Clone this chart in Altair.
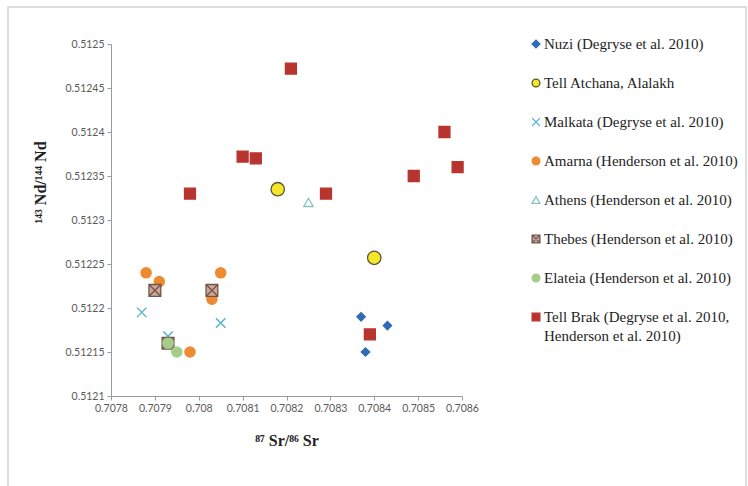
import altair as alt
import pandas as pd

# Series in drawing / legend order
series = [
    "Nuzi (Degryse et al. 2010)",
    "Tell Atchana, Alalakh",
    "Malkata (Degryse et al. 2010)",
    "Amarna (Henderson et al. 2010)",
    "Athens (Henderson et al. 2010)",
    "Thebes (Henderson et al. 2010)",
    "Elateia (Henderson et al. 2010)",
    "Tell Brak (Degryse et al. 2010, Henderson et al. 2010)",
]

# 87Sr/86Sr and 143Nd/144Nd per site
nuzi_sr = [0.70837, 0.70843, 0.70838]
nuzi_nd = [0.51219, 0.51218, 0.51215]

atchana_sr = [0.70818, 0.70840]
atchana_nd = [0.512335, 0.512257]

malkata_sr = [0.70787, 0.70793, 0.70805]
malkata_nd = [0.512195, 0.512168, 0.512183]

amarna_sr = [0.70788, 0.70791, 0.70805, 0.70803, 0.70798]
amarna_nd = [0.51224, 0.51223, 0.51224, 0.51221, 0.51215]

athens_sr = [0.70825]
athens_nd = [0.51232]

thebes_sr = [0.70790, 0.70803, 0.70793]
thebes_nd = [0.51222, 0.51222, 0.51216]

elateia_sr = [0.70793, 0.70795]
elateia_nd = [0.51216, 0.51215]

brak_sr = [0.70821, 0.70810, 0.70813, 0.70798, 0.70829, 0.70856, 0.70849, 0.70859, 0.70839]
brak_nd = [0.512472, 0.512372, 0.51237, 0.51233, 0.51233, 0.5124, 0.51235, 0.51236, 0.51217]

x_ticks = [0.7078, 0.7079, 0.708, 0.7081, 0.7082, 0.7083, 0.7084, 0.7085, 0.7086]
y_ticks = [0.5121, 0.51215, 0.5122, 0.51225, 0.5123, 0.51235, 0.5124, 0.51245, 0.5125]

groups = [
    (nuzi_sr, nuzi_nd), (atchana_sr, atchana_nd), (malkata_sr, malkata_nd),
    (amarna_sr, amarna_nd), (athens_sr, athens_nd), (thebes_sr, thebes_nd),
    (elateia_sr, elateia_nd), (brak_sr, brak_nd),
]
rows = []
for name, (xs, ys) in zip(series, groups):
    for sr, nd in zip(xs, ys):
        rows.append({"series": name, "sr": sr, "nd": nd})
df = pd.DataFrame(rows)
legend_df = pd.DataFrame({"series": series})

X_PATH = "M-1,-1L1,1M1,-1L-1,1"
BOX_X_PATH = "M-1,-1H1V1H-1Z M-1,-1L1,1 M1,-1L-1,1"

fills = ["#2f6cb3", "#f4e62a", "transparent", "#ee8a30", "transparent",
         "#d3a69a", "#a5cd88", "#b8352f"]
strokes = ["#2f6cb3", "#5a5434", "#4aaecb", "#ee8a30", "#86c2c6",
           "#6b574c", "#a5cd88", "#b8352f"]
shapes = ["diamond", "circle", X_PATH, "circle", "triangle-up",
          BOX_X_PATH, "circle", "square"]
sizes = [70, 180, 90, 105, 90, 140, 105, 120]

fill_enc = alt.Fill("series:N", scale=alt.Scale(domain=series, range=fills), legend=None)
stroke_enc = alt.Stroke("series:N", scale=alt.Scale(domain=series, range=strokes), legend=None)
shape_enc = alt.Shape("series:N", scale=alt.Scale(domain=series, range=shapes), legend=None)

points = alt.Chart(df).mark_point(opacity=1, strokeWidth=1.3).encode(
    x=alt.X(
        "sr:Q",
        scale=alt.Scale(domain=[0.7078, 0.7086], nice=False, zero=False),
        axis=alt.Axis(
            values=x_ticks, format=".5~f", title="⁸⁷ Sr/⁸⁶ Sr",
            titleY=44, titleBaseline="middle",
            labelOverlap=False, labelFlush=False, labelBound=False,
        ),
    ),
    y=alt.Y(
        "nd:Q",
        scale=alt.Scale(domain=[0.5121, 0.5125], nice=False, zero=False),
        axis=alt.Axis(
            values=y_ticks, format=".5~f", title="¹⁴³ Nd/¹⁴⁴ Nd",
            titleX=-71, titleY=138, titleAngle=-90,
            titleAlign="center", titleBaseline="middle",
            labelOverlap=False, labelFlush=False, labelBound=False,
        ),
    ),
    fill=fill_enc,
    stroke=stroke_enc,
    shape=shape_enc,
    size=alt.Size(
        "series:N",
        scale=alt.Scale(type="ordinal", domain=series, range=sizes),
        legend=None,
    ),
)

# legend column to the right of the plot: one row per series
legend_y = alt.Y(
    "series:N",
    sort=series,
    scale=alt.Scale(type="point", domain=series, range=[0, 273], padding=0),
    axis=None,
)

legend_symbols = alt.Chart(legend_df).mark_point(
    opacity=1, strokeWidth=1.3, size=60
).encode(
    x=alt.value(425),
    y=legend_y,
    fill=fill_enc,
    stroke=stroke_enc,
    shape=shape_enc,
)

legend_labels = alt.Chart(legend_df).transform_calculate(
    label="replace(datum.series, ', Henderson', ',\\nHenderson')"
).mark_text(
    align="left",
    baseline="top",
    dy=-7,
    font="Liberation Serif",
    fontSize=15,
    color="#1e1e1e",
    lineBreak="\n",
    lineHeight=19,
).encode(
    x=alt.value(433),
    y=legend_y,
    text="label:N",
)

# light outer frame around the figure
frame = alt.Chart(alt.Data(values=[{}])).mark_rect(
    fill="transparent", stroke="#d2d2d2", strokeWidth=1.5
).encode(
    x=alt.value(-103), x2=alt.value(635),
    y=alt.value(-37), y2=alt.value(460),
)

chart = alt.layer(frame, points, legend_symbols, legend_labels).resolve_scale(
    y="independent"
).properties(
    width=351,
    height=352,
    autosize=alt.AutoSizeParams(type="none"),
    padding={"left": 111, "top": 44, "right": 286, "bottom": 90},
    background="white",
).configure_view(
    stroke=None
).configure_axis(
    grid=False,
    domainColor="#9a9a9a",
    tickColor="#9a9a9a",
    tickSize=4,
    labelFont="Lato",
    labelFontSize=10.5,
    labelColor="#5a5a5a",
    labelPadding=3,
    titleFont="Liberation Serif",
    titleFontSize=16,
    titleFontWeight="bold",
    titleColor="#222222",
)

chart.save("out.html", embed_options={"renderer": "svg", "actions": False})
